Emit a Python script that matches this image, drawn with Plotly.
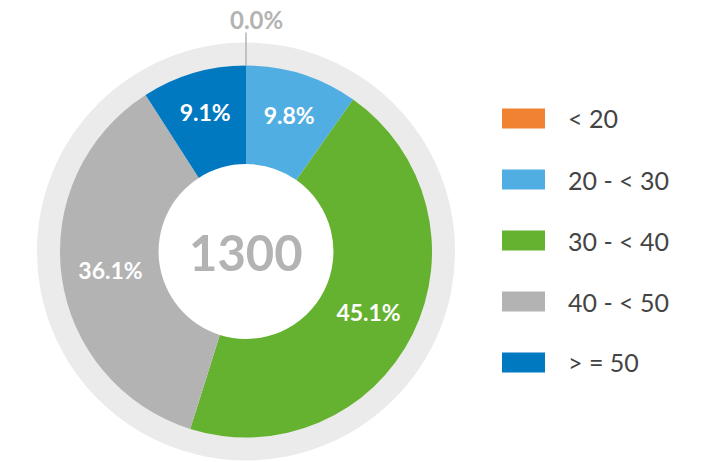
import math
import plotly.graph_objects as go

categories = ["< 20", "20 - < 30", "30 - < 40", "40 - < 50", "> = 50"]
counts = [0, 127, 586, 469, 118]
colors = ["#F08231", "#50AEE2", "#64B22F", "#B3B3B3", "#0079C1"]

W, H = 719, 462
CX, CY = 246, 251.5      # pie centre in px (from top)
R_PIE, R_RING = 186, 209
HOLE = 0.47

def dom(r):
    return dict(x=[(CX - r) / W, (CX + r) / W],
                y=[(H - CY - r) / H, (H - CY + r) / H])

total = sum(counts)
fig = go.Figure()

# light grey ring behind
fig.add_trace(go.Pie(values=[1], marker=dict(colors=["#EBEBEB"]), hole=0.85,
                     domain=dom(R_RING), textinfo="none", hoverinfo="skip",
                     showlegend=False, sort=False))

inside = [c > 0 for c in counts]
fig.add_trace(go.Pie(
    labels=categories, values=counts, sort=False, direction="clockwise", rotation=0,
    hole=HOLE, domain=dom(R_PIE),
    marker=dict(colors=colors, line=dict(width=0)),
    texttemplate=["%{percent:.1%}" if v else "" for v in inside],
    textposition="inside", insidetextorientation="horizontal",
    insidetextfont=dict(family="Lato", size=23, color="white", weight="bold"),
    showlegend=False,
))

# outside label for empty slices
cum = 0
for cat, c in zip(categories, counts):
    if c == 0:
        th = 2 * math.pi * (cum + c / 2) / total
        x0 = CX + R_PIE * math.sin(th); y0 = CY - R_PIE * math.cos(th)
        x1 = CX + (R_PIE + 33) * math.sin(th); y1 = CY - (R_PIE + 33) * math.cos(th)
        fig.add_shape(type="line", xref="paper", yref="paper",
                      x0=x0 / W, y0=(H - y0) / H, x1=x1 / W, y1=(H - y1) / H,
                      line=dict(color="#B3B3B3", width=1.5))
        fig.add_annotation(xref="paper", yref="paper", x=x1 / W, y=(H - y1 - 4) / H,
                           xanchor="center", yanchor="bottom", showarrow=False,
                           xshift=10,
                           text="<b>%.1f%%</b>" % (100 * c / total),
                           font=dict(family="Lato", size=24, color="#B3B3B3", weight="bold"))
    cum += c

# centre total
fig.add_annotation(xref="paper", yref="paper", x=CX / W, y=(H - CY) / H,
                   text="<b>%d</b>" % total, showarrow=False,
                   font=dict(family="Lato", size=49, color="#B3B3B3", weight="bold"))

# custom legend
for i, (cat, col) in enumerate(zip(categories, colors)):
    yc = 118.5 + 61 * i
    fig.add_shape(type="rect", xref="paper", yref="paper",
                  x0=502 / W, x1=545 / W, y0=(H - yc + 10) / H, y1=(H - yc - 10) / H,
                  fillcolor=col, line=dict(width=0))
    fig.add_annotation(xref="paper", yref="paper", x=566 / W, y=(H - yc) / H,
                       xanchor="left", yanchor="middle", showarrow=False, text=cat,
                       font=dict(family="Lato", size=25, color="#444444"))

fig.update_layout(width=W, height=H, margin=dict(l=0, r=0, t=0, b=0),
                  paper_bgcolor="white", plot_bgcolor="white", showlegend=False)
fig.write_html("out.html", config={"displayModeBar": False},
               post_script="document.body.style.margin='0';document.body.style.overflow='hidden';")
